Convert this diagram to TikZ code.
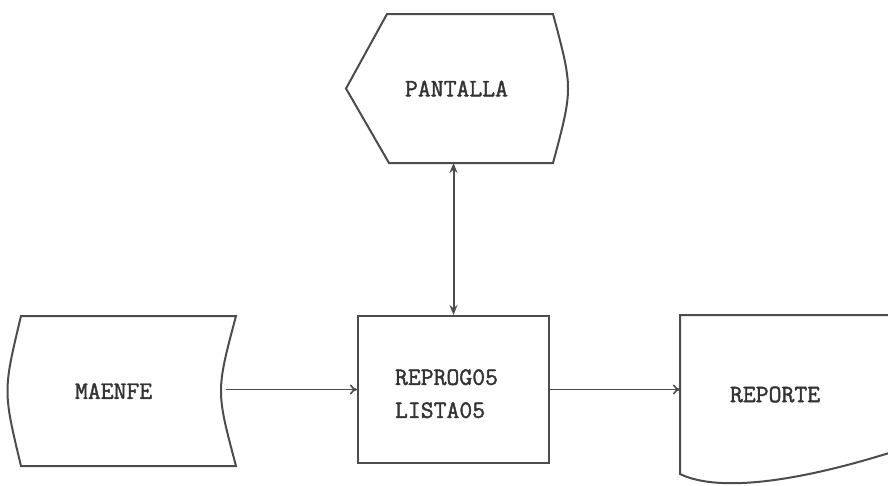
\documentclass[tikz,border=0pt]{standalone}
\usepackage{fontspec}
\setmonofont[AutoFakeBold=1.6]{Latin Modern Mono}
\usepackage{tikz}
\usetikzlibrary{arrows.meta, positioning}
\usepackage{xcolor}

\begin{document}
\begin{tikzpicture}[x=1pt, y=-1pt,
  line width=2pt, draw=black!70,
  font=\fontsize{25}{33}\selectfont\ttfamily\bfseries,
  txt/.style={text=black!80, inner ysep=0pt},
  flow/.style={-{To[length=7pt, width=10pt]}, line width=1.6pt},
  link/.style={{Stealth[length=10pt, width=8pt]}-{Stealth[length=10pt, width=8pt]}}]
\useasboundingbox (0,0) rectangle (888,485);
% ---------------- nodes ----------------
\node[txt, minimum width=191pt, minimum height=147pt, draw,
      inner xsep=37pt, text width=117pt, align=left] (proc) at (453.5,389.5)
      {\rule{0pt}{24pt}REPROG05\\ LISTA05};
\node[txt, minimum width=213pt, minimum height=148pt,
      inner xsep=53pt, text width=107pt, align=left] (maenfe) at (128.5,391)
      {MAENFE};
\node[txt, minimum width=205pt, minimum height=147pt,
      inner xsep=44pt, text width=117pt, align=right] (pantalla) at (449.5,88.5)
      {PANTALLA};
\node[txt, minimum width=207pt, minimum height=157pt,
      inner xsep=49pt, text width=109pt, align=left] (reporte) at (784.5,394.5)
      {REPORTE};
% ---------------- outlines ----------------
% stored data: curved sides
\draw (maenfe.north west) -- (maenfe.north east)
  .. controls ([xshift=-20pt]maenfe.east) .. (maenfe.south east)
  -- (maenfe.south west)
  .. controls ([xshift=-18pt]maenfe.west) .. cycle;
% display
\draw (pantalla.west) -- ([xshift=41pt]pantalla.north west)
  -- (pantalla.north east)
  .. controls ([xshift=20pt]pantalla.east) .. (pantalla.south east)
  -- ([xshift=43pt]pantalla.south west) -- cycle;
% document: wavy bottom, cut at the right
\draw (reporte.north east) -- (reporte.north west) -- (reporte.south west)
  .. controls ([shift={(39pt,-19pt)}]reporte.south west)
  and ([shift={(119pt,-7pt)}]reporte.south west)
  .. ([yshift=21pt]reporte.south east);
% ---------------- connectors ----------------
\draw[flow] ([xshift=-10pt]maenfe.east |- proc.west) -- (proc.west);
\draw[flow] (proc.east) -- (proc.east -| reporte.west);
\draw[link] (pantalla.south -| proc.north) -- (proc.north);
\end{tikzpicture}
\end{document}
